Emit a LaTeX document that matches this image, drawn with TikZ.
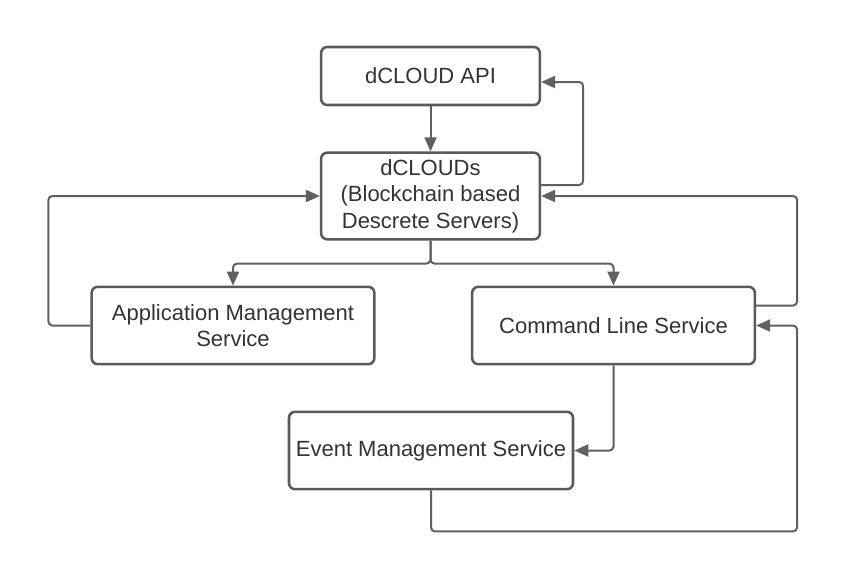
\documentclass[tikz,border=0pt]{standalone}
\usepackage{fontspec}
\setmainfont{Liberation Sans}
\usetikzlibrary{arrows.meta,calc}
\definecolor{boxgray}{HTML}{5A5A5A}
\definecolor{linegray}{HTML}{606060}
\definecolor{textgray}{HTML}{333333}
\tikzset{every picture/.style={line width=0.75pt}}
\tikzset{
  svcbox/.style={draw=boxgray, line width=1.9pt, rounded corners=4.5pt, fill=white,
    align=center, text=textgray, inner sep=0pt,
    font=\fontsize{16.5}{20}\selectfont},
  conn/.style={draw=linegray, line width=1.5pt, rounded corners=3pt,
    -{Triangle[length=10.5pt,width=9pt]}}
}
\begin{document}
\begin{tikzpicture}[x=0.75pt,y=0.75pt,yscale=-1,xscale=1]
    \useasboundingbox (0,0) rectangle (847,569);
    % Text Node
    \node (api) [svcbox, minimum width=164pt, minimum height=43.5pt] at (430.5,76) {dCLOUD API};
    % Text Node
    \node (dcl) [svcbox, minimum width=164pt, minimum height=65pt] at (430.5,196) {dCLOUDs\\(Blockchain based\\Descrete Servers)};
    % Text Node
    \node (app) [svcbox, minimum width=212pt, minimum height=58pt] at (233,325.5) {Application Management\\Service};
    % Text Node
    \node (cls) [svcbox, minimum width=212pt, minimum height=58pt] at (613.5,325.5) {Command Line Service};
    % Text Node
    \node (evt) [svcbox, minimum width=213pt, minimum height=58pt] at (431,450.5) {Event Management Service};
    % Connection
    \draw [conn] (api) -- (dcl);
    % Connection
    \draw [conn] ($(dcl.east)+(0,-11)$) -- ++(42,0) |- ($(api.east)+(0,6)$);
    % Connection
    \draw [conn] (app.west) -- ++(-42,0) |- (dcl.west);
    % Connection
    \draw [conn] (dcl.south) -- ++(0,23) -| (app.north);
    % Connection
    \draw [conn] (dcl.south) -- ++(0,23) -| (cls.north);
    % Connection
    \draw [conn] ($(cls.east)+(0,-20)$) -- ++(41,0) |- (dcl.east);
    % Connection
    \draw [conn] (cls.south) |- (evt.east);
    % Connection
    \draw [conn] (evt.south) -- ++(0,41) -| ($(cls.east)+(41,0)$) -- (cls.east);
\end{tikzpicture}
\end{document}
